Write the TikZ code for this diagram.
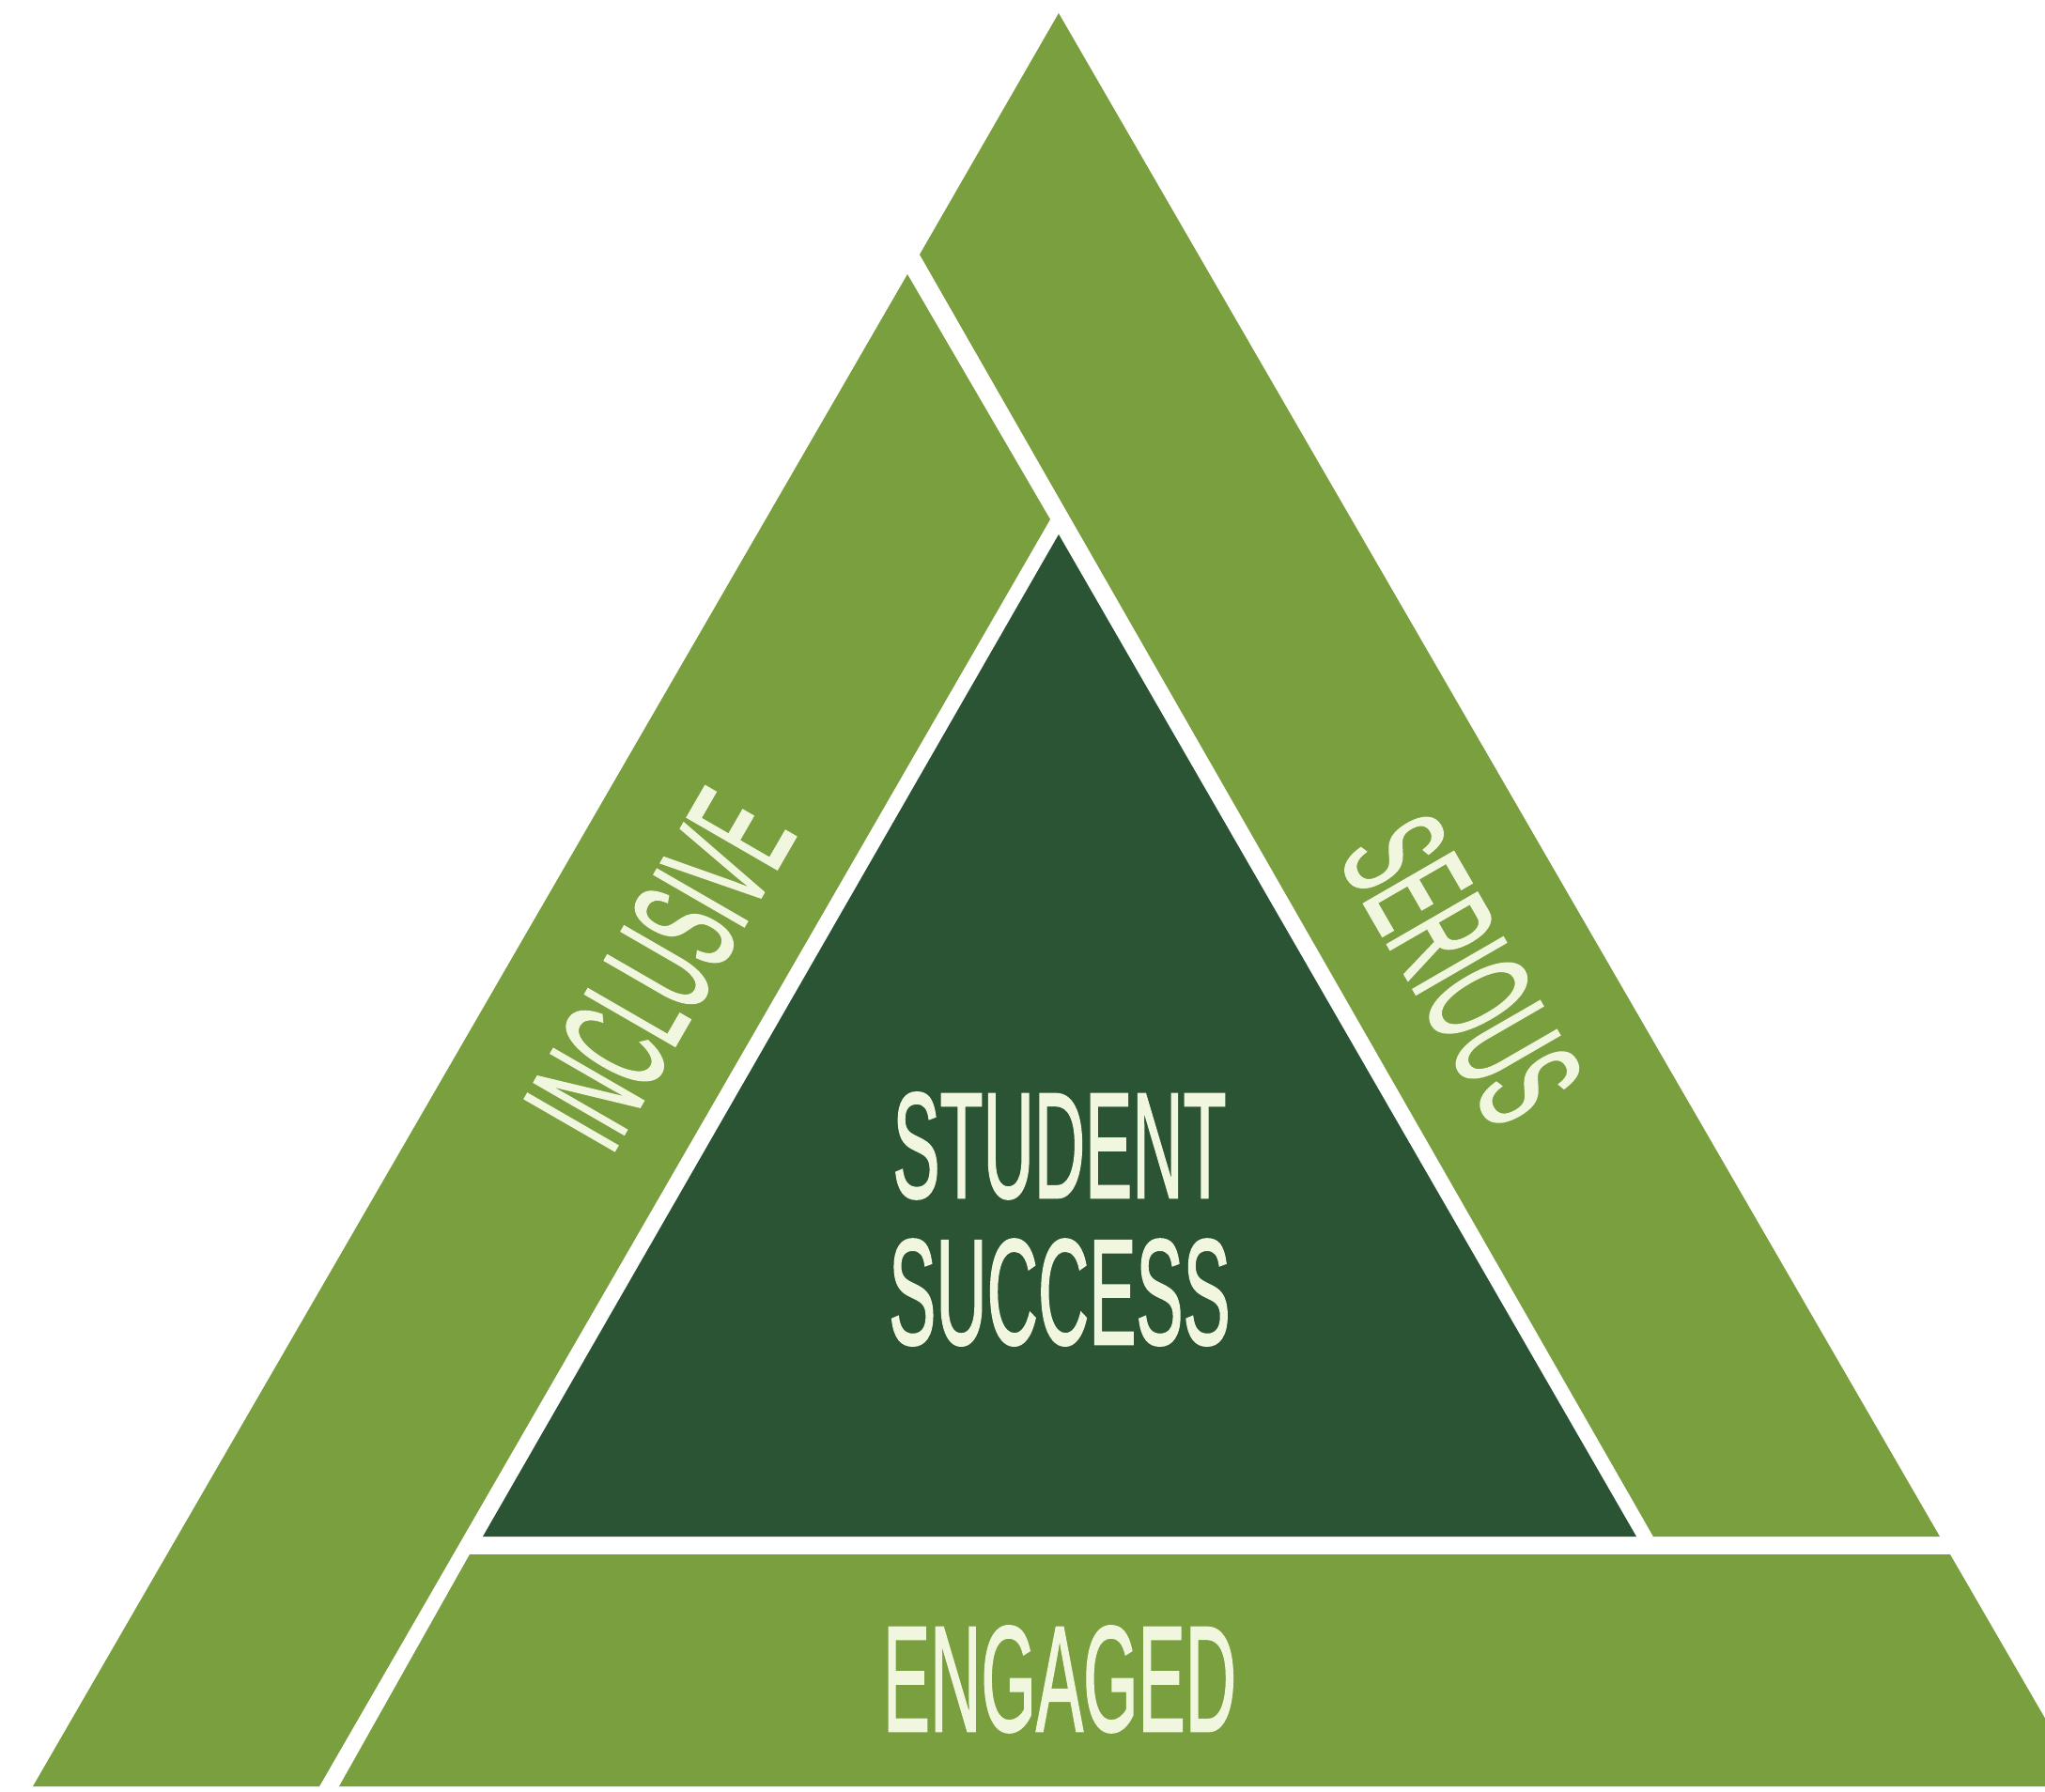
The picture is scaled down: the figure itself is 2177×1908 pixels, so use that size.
\documentclass[tikz,border=0pt]{standalone}
\usepackage{fontspec}
\newfontfamily\wordfont[FakeBold=1.6]{Liberation Sans}
\definecolor{bandgreen}{RGB}{122,159,63}
\definecolor{coregreen}{RGB}{42,84,52}
\definecolor{wordcream}{RGB}{241,247,222}

\begin{document}
\begin{tikzpicture}[
  x=0.01cm, y=-0.01cm,
  band/.style={fill=bandgreen, draw=none},
  core/.style={fill=coregreen, draw=none},
  word/.style={text=wordcream, inner sep=0pt, align=center,
    font=\wordfont\fontsize{45.5}{44.4}\selectfont},
  narrow/.style={xscale=0.47, transform shape},
]
  \useasboundingbox (0,0) rectangle (2177,1908);
  \clip (0,0) rectangle (2177,1908);

  % Corners
  \coordinate (apex) at (1127,14);
  \coordinate (coretop) at (1127,569);
  \coordinate (coreleft) at (514,1636);
  \coordinate (coreright) at (1742,1636);

  % Bands
  \fill[band] (35,1902) -- (966,292) -- (1118,553) -- (340,1902) -- cycle;
  \fill[band] (apex) -- (2065,1636) -- (1760,1636) -- (979,271) -- cycle;
  \fill[band] (361,1902) -- (500,1655) -- (2076,1655) -- (2219,1902) -- cycle;
  \fill[core] (coretop) -- (coreright) -- (coreleft) -- cycle;

  % Labels
  \node[word, narrow] (success) at (1128,1298) {STUDENT\\SUCCESS};
  \node[word, narrow, anchor=base] (engaged) at (1128,1843) {ENGAGED};
  \node[word, rotate=60, narrow] (inclusive) at (702,1032) {INCLUSIVE};
  \node[word, rotate=-60, narrow] (serious) at (1556,1032) {SERIOUS};
\end{tikzpicture}
\end{document}
